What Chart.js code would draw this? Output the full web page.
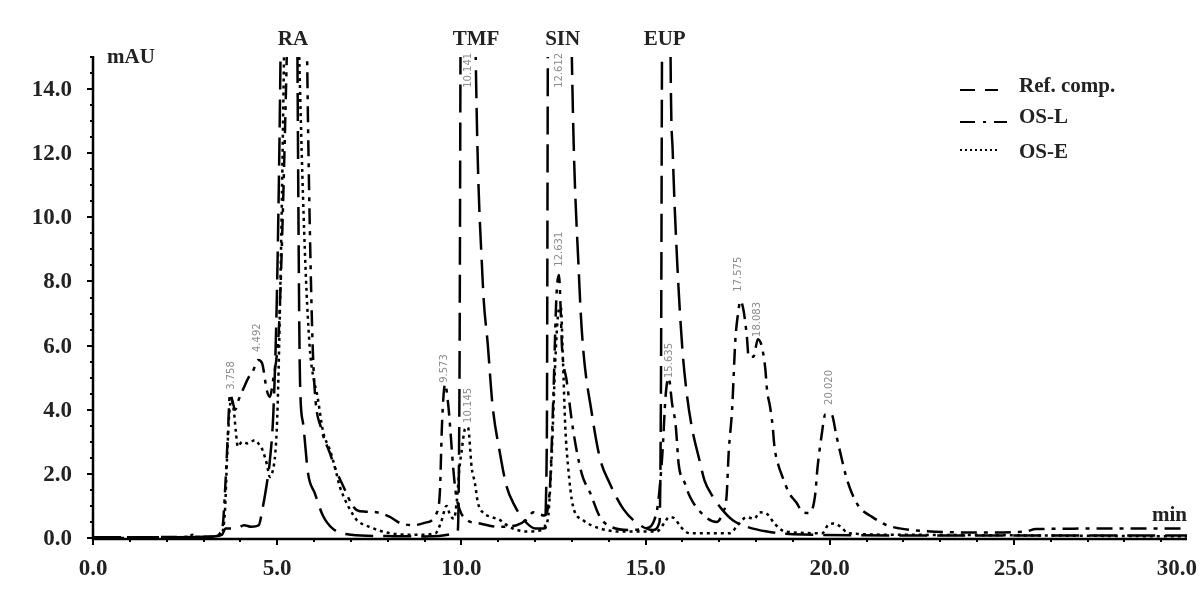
<!DOCTYPE html>
<html>
<head>
<meta charset="utf-8">
<script src="https://cdn.jsdelivr.net/npm/chart.js@4.4.1/dist/chart.umd.min.js"></script>
<style>
  html, body { margin: 0; padding: 0; background: #fff; }
  canvas { display: block; }
</style>
</head>
<body>
<canvas id="chrom" width="1200" height="611"></canvas>
<script>
// Chromatogram traces (time in min, absorbance in mAU)
const refTime = [0, 3.0, 3.5, 3.6, 3.9, 4.1, 4.3, 4.5, 4.6, 4.72, 4.8, 4.9, 5.0, 5.1, 5.2, 5.4, 5.48, 5.55, 5.62, 5.7, 5.84, 6.02, 6.24, 6.5, 7.0, 8.0, 9.0,
  9.9, 9.95, 9.98, 10.15, 10.3, 10.39, 10.58, 10.72, 10.85, 11.04, 11.23, 11.45, 11.67, 12.0, 12.25,
  12.32, 12.35, 12.4, 12.7, 12.9, 13.0, 13.2, 13.3, 13.54, 13.76, 14.03, 14.4, 14.85, 15.2,
  15.38, 15.42, 15.45, 15.55, 15.62, 15.68, 15.74, 15.86, 16.0, 16.12, 16.25, 16.47, 16.6, 16.82, 17.07, 17.37, 17.75, 18.3, 19.0, 22.0, 29.7];
const refValue = [0.02, 0.03, 0.1, 0.3, 0.3, 0.4, 0.35, 0.4, 0.9, 1.7, 2.4, 4.0, 8, 16, 30, 40, 30, 15, 4.9, 3.6, 2.0, 1.4, 0.7, 0.3, 0.1, 0.06, 0.05,
  0.2, 5, 16, 40, 25, 15, 8.0, 6.0, 4.1, 2.7, 1.6, 1.0, 0.6, 0.3, 0.3,
  3, 16, 30, 40, 25, 15, 8.0, 6.0, 3.9, 2.5, 1.7, 0.9, 0.4, 0.25,
  0.5, 5, 16, 40, 30, 15, 12, 8.6, 5.9, 4.5, 3.5, 2.4, 1.8, 1.3, 0.9, 0.55, 0.35, 0.2, 0.12, 0.08, 0.08];

const osLTime = [0, 2.5, 3.3, 3.45, 3.53, 3.6, 3.66, 3.72, 3.78, 3.86, 3.95, 4.1, 4.22, 4.34, 4.48, 4.59, 4.72, 4.8, 4.9, 5.0, 5.05, 5.15, 5.3, 5.5, 5.65, 5.78, 5.85, 5.95,
  6.02, 6.2, 6.43, 6.6, 6.8, 7.0, 7.16, 7.4, 7.7, 8.06, 8.33, 8.7, 9.0, 9.33, 9.42, 9.47, 9.52, 9.56, 9.64, 9.7, 9.77, 9.85, 9.95, 10.1, 10.5, 11.0, 11.5,
  11.8, 11.95, 12.1, 12.25, 12.4, 12.5, 12.58, 12.65, 12.7, 12.73, 12.86, 13.03, 13.27, 13.5, 13.76, 14.1, 14.6, 15.0, 15.3, 15.45, 15.55, 15.63, 15.72, 15.82, 15.9,
  16.07, 16.2, 16.5, 16.93, 17.1, 17.2, 17.26, 17.35, 17.44, 17.5, 17.58, 17.66, 17.75, 17.8, 17.93, 18.05, 18.15, 18.25, 18.3, 18.38, 18.45, 18.5, 18.6, 18.72,
  18.9, 19.1, 19.27, 19.45, 19.6, 19.67, 19.78, 19.88, 20.05, 20.18, 20.32, 20.45, 20.6, 20.8, 21.15, 21.55, 21.9, 22.5, 24.0, 25.3, 25.6, 29.7];
const osLValue = [0.02, 0.03, 0.05, 0.15, 0.47, 1.8, 3.2, 4.5, 4.3, 4.0, 4.3, 4.7, 5.0, 5.2, 5.55, 5.45, 4.6, 4.4, 5.0, 5.8, 6.6, 10, 17, 28, 30, 18, 12, 6.5,
  4.6, 3.4, 2.65, 2.1, 1.6, 1.1, 0.87, 0.82, 0.8, 0.66, 0.47, 0.4, 0.47, 0.78, 1.5, 3.4, 4.5, 4.8, 4.2, 3.4, 2.3, 1.4, 0.9, 0.6, 0.45, 0.35, 0.4,
  0.6, 0.8, 0.75, 0.7, 1.5, 4.5, 7.5, 8.2, 7.0, 6.0, 4.9, 3.4, 2.0, 1.4, 0.66, 0.33, 0.25, 0.3, 0.8, 2.5, 4.5, 5.0, 4.2, 3.5, 2.3,
  1.7, 1.3, 0.8, 0.5, 0.8, 1.3, 2.7, 4.0, 6.2, 6.9, 7.4, 7.1, 6.3, 5.65, 5.65, 6.2, 6.0, 5.3, 4.6, 4.1, 3.5, 2.85, 2.3, 1.9,
  1.4, 1.1, 0.8, 0.78, 1.3, 2.2, 3.2, 3.85, 3.85, 3.2, 2.5, 1.9, 1.4, 0.97, 0.66, 0.4, 0.3, 0.22, 0.17, 0.2, 0.28, 0.3];

const osETime = [0, 2.6, 2.7, 2.8, 3.3, 3.5, 3.58, 3.64, 3.7, 3.76, 3.82, 3.88, 3.93, 4.05, 4.2, 4.4, 4.52, 4.6, 4.72, 4.8, 4.88, 4.95, 5.0, 5.05, 5.12, 5.2, 5.35, 5.5, 5.62, 5.75, 5.88,
  6.0, 6.08, 6.25, 6.43, 6.57, 6.7, 6.84, 7.03, 7.16, 7.5, 8.06, 8.8, 9.3, 9.45, 9.6, 9.7, 9.8, 9.88, 9.95, 10.0, 10.1, 10.18, 10.28, 10.37, 10.45, 10.6, 10.8, 11.05, 11.3,
  11.8, 12.2, 12.35, 12.45, 12.55, 12.63, 12.7, 12.76, 12.82, 12.9, 13.03, 13.3, 13.76, 14.3, 15.3, 15.5, 15.64, 15.8, 15.95, 16.2, 17.3, 17.5, 17.75, 17.95, 18.1, 18.3, 18.5, 18.8,
  19.8, 19.95, 20.1, 20.3, 20.5, 22.0, 29.7];
const osEValue = [0, 0.03, 0.1, 0.03, 0.05, 0.15, 0.8, 2.5, 3.9, 4.3, 4.0, 3.3, 2.85, 3.0, 2.95, 3.05, 2.9, 2.75, 2.3, 1.9, 2.1, 2.65, 3.7, 5.8, 10, 16, 24, 20, 14, 9, 6,
  4.9, 4.5, 3.3, 2.75, 2.2, 1.6, 1.2, 0.78, 0.56, 0.35, 0.15, 0.1, 0.15, 0.5, 1.0, 0.7, 0.6, 1.2, 2.2, 2.65, 3.4, 3.45, 2.2, 1.7, 1.1, 0.78, 0.66, 0.56, 0.35,
  0.2, 0.25, 0.6, 2.5, 5.5, 7.0, 7.2, 5.5, 3.5, 2.2, 1.0, 0.56, 0.3, 0.2, 0.2, 0.45, 0.65, 0.6, 0.35, 0.15, 0.15, 0.4, 0.65, 0.6, 0.8, 0.75, 0.45, 0.2,
  0.15, 0.4, 0.45, 0.35, 0.15, 0.1, 0.05];

// Axis ticks
const xTickValues = [0, 5, 10, 15, 20, 25, 30];
const xTickLabels = ['0.0', '5.0', '10.0', '15.0', '20.0', '25.0', '30.0'];
const yTickValues = [0, 2, 4, 6, 8, 10, 12, 14];
const yTickLabels = ['0.0', '2.0', '4.0', '6.0', '8.0', '10.0', '12.0', '14.0'];

// Compound names above the off-scale peaks
const compoundNames = ['RA', 'TMF', 'SIN', 'EUP'];
const compoundTimes = [5.43, 10.4, 12.75, 15.52];

// Retention-time annotations (text, time, mAU level of label foot)
const rtLabels = ['3.758', '4.492', '9.573', '10.145', '10.141', '12.612', '12.631', '15.635', '17.575', '18.083', '20.020'];
const rtTimes  = [3.77, 4.45, 9.55, 10.18, 10.18, 12.67, 12.67, 15.64, 17.53, 18.05, 20.0];
const rtLevels = [4.62, 5.8, 4.84, 3.59, 14.04, 14.04, 8.46, 4.99, 7.68, 6.27, 4.15];

const seriesNames = ['Ref. comp.', 'OS-L', 'OS-E'];
const seriesDash = [[28, 10], [16, 7, 4, 7], [3, 4]];
const legendDash = [[15, 10], [15, 8, 3, 8], [2, 3]];

const toPoints = (t, v) => t.map((x, i) => ({ x: x, y: v[i] }));

const SERIF = '"Liberation Serif", "Times New Roman", serif';
const TEXT = '#222';

const chromAxes = {
  id: 'chromAxes',
  beforeDatasetsDraw(chart) {
    const { ctx, chartArea: a, scales: { x, y } } = chart;
    ctx.save();
    ctx.strokeStyle = '#000';
    ctx.lineWidth = 2.5;
    ctx.beginPath();
    ctx.moveTo(a.left, a.top - 1);
    ctx.lineTo(a.left, a.bottom + 1);
    ctx.lineTo(a.right, a.bottom + 1);
    ctx.stroke();

    ctx.lineWidth = 2;
    ctx.beginPath();
    for (let v = 0; v <= 15; v += 0.5) {
      const py = Math.round(y.getPixelForValue(v));
      const len = v % 2 === 0 ? 6 : 3;
      ctx.moveTo(a.left, py);
      ctx.lineTo(a.left - len, py);
    }
    for (let t = 0; t <= Math.floor(x.max); t += 1) {
      const px = Math.round(x.getPixelForValue(t));
      const len = t % 5 === 0 ? 7 : 4;
      ctx.moveTo(px, a.bottom);
      ctx.lineTo(px, a.bottom + len);
    }
    ctx.stroke();
    ctx.restore();
  },
  afterDraw(chart) {
    const { ctx, chartArea: a, scales: { x, y } } = chart;
    ctx.save();
    ctx.fillStyle = TEXT;
    ctx.font = 'bold 23px ' + SERIF;

    // y tick labels
    ctx.textAlign = 'right';
    ctx.textBaseline = 'middle';
    yTickValues.forEach((v, i) => {
      ctx.fillText(yTickLabels[i], a.left - 21, y.getPixelForValue(v) + 1);
    });

    // x tick labels
    xTickValues.forEach((t, i) => {
      let px = x.getPixelForValue(t);
      ctx.textAlign = 'center';
      if (px + 24 > chart.width) { ctx.textAlign = 'right'; px = chart.width - 3; }
      ctx.fillText(xTickLabels[i], px, a.bottom + 31);
    });

    // unit labels
    ctx.font = 'bold 21px ' + SERIF;
    ctx.textAlign = 'left';
    ctx.fillText('mAU', a.left + 14, a.top + 1);
    ctx.textAlign = 'right';
    ctx.fillText('min', a.right, a.bottom - 22);

    // compound names
    ctx.textAlign = 'center';
    compoundNames.forEach((n, i) => {
      ctx.fillText(n, x.getPixelForValue(compoundTimes[i]), a.top - 17);
    });

    // legend
    const lx = 960, ly = [90, 122, 150], ty = [87, 118, 153];
    seriesNames.forEach((n, i) => {
      ctx.save();
      ctx.strokeStyle = '#000';
      ctx.lineWidth = 2;
      ctx.setLineDash(legendDash[i]);
      ctx.beginPath();
      ctx.moveTo(lx, ly[i]);
      ctx.lineTo(lx + [38, 47, 40][i], ly[i]);
      ctx.stroke();
      ctx.restore();
      ctx.textAlign = 'left';
      ctx.fillText(n, 1019, ty[i]);
    });

    // retention-time annotations, rotated
    ctx.fillStyle = '#8c8c8c';
    ctx.font = '10px "DejaVu Sans", sans-serif';
    ctx.textAlign = 'left';
    ctx.textBaseline = 'middle';
    rtLabels.forEach((s, i) => {
      ctx.save();
      ctx.translate(x.getPixelForValue(rtTimes[i]), y.getPixelForValue(rtLevels[i]));
      ctx.rotate(-Math.PI / 2);
      ctx.fillText(s, 0, 0);
      ctx.restore();
    });
    ctx.restore();
  }
};

const lineStyle = (dash) => ({
  borderColor: '#000',
  borderWidth: 2.5,
  borderDash: dash,
  pointRadius: 0,
  fill: false,
  cubicInterpolationMode: 'monotone'
});

new Chart(document.getElementById('chrom'), {
  type: 'line',
  data: {
    datasets: [
      Object.assign({ label: seriesNames[0], data: toPoints(refTime, refValue) }, lineStyle(seriesDash[0])),
      Object.assign({ label: seriesNames[1], data: toPoints(osLTime, osLValue) }, lineStyle(seriesDash[1])),
      Object.assign({ label: seriesNames[2], data: toPoints(osETime, osEValue) }, lineStyle(seriesDash[2]))
    ]
  },
  options: {
    responsive: false,
    animation: false,
    devicePixelRatio: 1,
    parsing: false,
    layout: { padding: { left: 93, right: 13, top: 57, bottom: 73 } },
    plugins: { legend: { display: false }, tooltip: { enabled: false } },
    scales: {
      x: { type: 'linear', min: 0, max: 29.7, display: false },
      y: { type: 'linear', min: 0, max: 15, display: false }
    }
  },
  plugins: [chromAxes]
});
</script>
</body>
</html>
